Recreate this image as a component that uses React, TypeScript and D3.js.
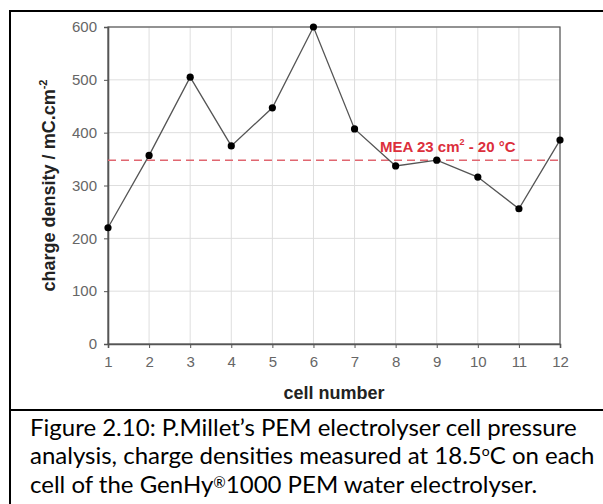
import React, { useEffect, useRef } from 'react';
import * as d3 from 'd3';

// cell numbers and measured charge densities (mC/cm2)
const cells = [1, 2, 3, 4, 5, 6, 7, 8, 9, 10, 11, 12];
const chargeDensity = [220, 357, 505, 375, 447, 600, 407, 337, 348, 316, 256, 386];
const meaLevel = [348];
const yTicks = [0, 100, 200, 300, 400, 500, 600];

const captionLines = [
  'Figure 2.10: P.Millet\u2019s PEM electrolyser cell pressure',
  'analysis, charge densities measured at 18.5',
  'cell of the GenHy',
];

const App = () => {
  const svgRef = useRef(null);

  useEffect(() => {
    if (!svgRef.current) return;
    const svg = d3.select(svgRef.current);
    svg.selectAll('*').remove();

    const width = 603;
    const height = 504;
    const plot = { left: 108, right: 560, top: 27, bottom: 344 };
    const sans = '"Liberation Sans", Arial, sans-serif';

    svg.append('rect').attr('width', width).attr('height', height).attr('fill', '#fff');

    const x = d3.scaleLinear().domain([1, 12]).range([plot.left, plot.right]);
    const y = d3.scaleLinear().domain([0, 600]).range([plot.bottom, plot.top]);

    // grid
    svg.append('g')
      .selectAll('line')
      .data(cells.slice(1))
      .enter()
      .append('line')
      .attr('x1', d => x(d)).attr('x2', d => x(d))
      .attr('y1', plot.top).attr('y2', plot.bottom)
      .attr('stroke', '#dedede').attr('stroke-width', 1);
    svg.append('g')
      .selectAll('line')
      .data(yTicks.slice(1))
      .enter()
      .append('line')
      .attr('x1', plot.left).attr('x2', plot.right)
      .attr('y1', d => y(d)).attr('y2', d => y(d))
      .attr('stroke', '#dedede').attr('stroke-width', 1);

    // frame
    svg.append('rect')
      .attr('x', plot.left).attr('y', plot.top)
      .attr('width', plot.right - plot.left).attr('height', plot.bottom - plot.top)
      .attr('fill', 'none').attr('stroke', '#555').attr('stroke-width', 1.2);

    // axes
    const xAxis = svg.append('g')
      .attr('transform', `translate(0,${plot.bottom})`)
      .call(d3.axisBottom(x).tickValues(cells).tickSize(4).tickPadding(8).tickFormat(d3.format('d')));
    xAxis.select('.domain').attr('stroke', '#555').attr('stroke-width', 1.6);
    xAxis.selectAll('.tick line').attr('stroke', '#555');
    xAxis.selectAll('text')
      .attr('font-family', sans)
      .attr('font-size', 15).attr('fill', '#666');

    const yAxis = svg.append('g')
      .attr('transform', `translate(${plot.left},0)`)
      .call(d3.axisLeft(y).tickValues(yTicks).tickSize(4).tickPadding(7));
    yAxis.select('.domain').attr('stroke', '#555').attr('stroke-width', 1.6);
    yAxis.selectAll('.tick line').attr('stroke', '#555');
    yAxis.selectAll('text')
      .attr('font-family', sans)
      .attr('font-size', 15).attr('fill', '#666');

    // reference dashed line
    svg.append('g')
      .selectAll('line')
      .data(meaLevel)
      .enter()
      .append('line')
      .attr('x1', plot.left).attr('x2', plot.right)
      .attr('y1', d => y(d)).attr('y2', d => y(d))
      .attr('stroke', '#e06670').attr('stroke-width', 1.5)
      .attr('stroke-dasharray', '8,5');

    const mea = svg.append('text')
      .attr('x', 380).attr('y', 152)
      .attr('font-family', sans)
      .attr('font-size', 15).attr('font-weight', 'bold')
      .attr('fill', '#dc2f3c');
    mea.append('tspan').text('MEA 23 cm');
    mea.append('tspan').attr('font-size', 9).attr('dy', -7).text('2');
    mea.append('tspan').attr('dy', 7).text(' - 20 \u00b0C');

    // data line
    const pts = cells.map((c, i) => [c, chargeDensity[i]]);
    svg.append('path')
      .datum(pts)
      .attr('fill', 'none')
      .attr('stroke', '#555')
      .attr('stroke-width', 1.3)
      .attr('d', d3.line().x(d => x(d[0])).y(d => y(d[1])));
    svg.append('g')
      .selectAll('circle')
      .data(pts)
      .enter()
      .append('circle')
      .attr('cx', d => x(d[0])).attr('cy', d => y(d[1]))
      .attr('r', 3.6).attr('fill', '#000');

    // axis titles
    const yt = svg.append('text')
      .attr('transform', `translate(55,${(plot.top + plot.bottom) / 2}) rotate(-90)`)
      .attr('text-anchor', 'middle')
      .attr('font-family', sans)
      .attr('font-size', 18).attr('font-weight', 'bold').attr('fill', '#222');
    yt.append('tspan').text('charge density / mC.cm');
    yt.append('tspan').attr('font-size', 11).attr('dy', -8).text('-2');

    svg.append('text')
      .attr('x', (plot.left + plot.right) / 2).attr('y', 399)
      .attr('text-anchor', 'middle')
      .attr('font-family', sans)
      .attr('font-size', 18).attr('font-weight', 'bold').attr('fill', '#222')
      .text('cell number');

    // outer box and caption separator
    svg.append('line').attr('x1', 9).attr('x2', width).attr('y1', 11).attr('y2', 11)
      .attr('stroke', '#000').attr('stroke-width', 2);
    svg.append('line').attr('x1', 10).attr('x2', 10).attr('y1', 10).attr('y2', height)
      .attr('stroke', '#000').attr('stroke-width', 2);
    svg.append('line').attr('x1', 10).attr('x2', width).attr('y1', 410).attr('y2', 410)
      .attr('stroke', '#000').attr('stroke-width', 2);

    // caption
    const cap = svg.append('g')
      .attr('font-family', 'Lato, "Open Sans", sans-serif')
      .attr('font-size', 24).attr('fill', '#000');
    cap.append('text').attr('x', 30).attr('y', 436).text(captionLines[0]);
    const l2 = cap.append('text').attr('x', 30).attr('y', 464);
    l2.append('tspan').text(captionLines[1]);
    l2.append('tspan').attr('font-size', 14).attr('dy', -8).text('o');
    l2.append('tspan').attr('dy', 8).text('C on each');
    const l3 = cap.append('text').attr('x', 30).attr('y', 493);
    l3.append('tspan').text(captionLines[2]);
    l3.append('tspan').attr('font-size', 15).attr('dy', -5).text('\u00ae');
    l3.append('tspan').attr('dy', 5).text('1000 PEM water electrolyser.');
  }, []);

  return (
    <svg
      ref={svgRef}
      width={603}
      height={504}
      style={{ position: 'absolute', left: 0, top: 0, display: 'block' }}
    />
  );
};

export default App;
